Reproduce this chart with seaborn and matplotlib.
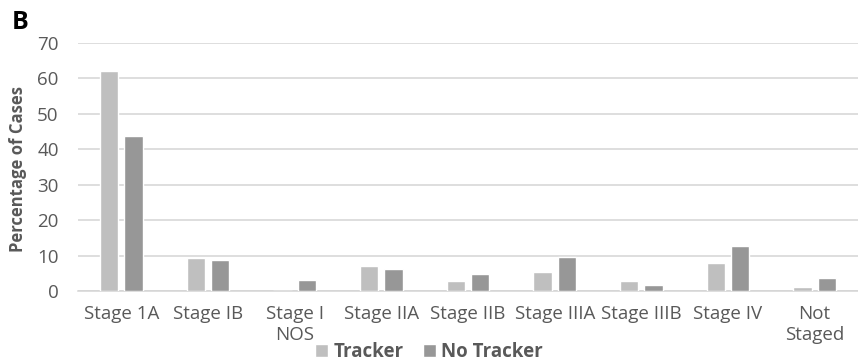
import pandas as pd
import matplotlib.pyplot as plt
import seaborn as sns

# Stage distribution, tracker vs no tracker (panel B)
stages = ['Stage 1A', 'Stage IB', 'Stage I\nNOS', 'Stage IIA', 'Stage IIB',
          'Stage IIIA', 'Stage IIIB', 'Stage IV', 'Not\nStaged']
tracker = [62.0, 9.2, 0.0, 7.1, 2.8, 5.4, 2.8, 7.9, 1.2]
no_tracker = [43.8, 8.8, 3.0, 6.2, 4.7, 9.5, 1.6, 12.7, 3.6]
groups = ['Tracker', 'No Tracker']

data = pd.DataFrame({
    'stage': stages * 2,
    'pct': tracker + no_tracker,
    'group': [groups[0]] * len(stages) + [groups[1]] * len(stages),
})

sns.set_style('white')
plt.rcParams['font.family'] = ['Open Sans', 'DejaVu Sans']

fig = plt.figure(figsize=(8.58, 3.63), dpi=100)
ax = fig.add_axes([0.091, 0.198, 0.909, 0.684])

sns.barplot(data=data, x='stage', y='pct', hue='group', order=stages,
            palette=['#bfbfbf', '#979797'], width=0.56, gap=0.25,
            saturation=1, ax=ax, zorder=3)

ax.set_ylim(0, 70)
ax.set_yticks(range(0, 71, 10))
ax.set_xlim(-0.5, len(stages) - 0.5)
ax.grid(axis='y', color='#d4d4d4', linewidth=1.1, zorder=0)
for s in ['top', 'right', 'left']:
    ax.spines[s].set_visible(False)
ax.spines['bottom'].set_color('#d4d4d4')
ax.spines['bottom'].set_linewidth(1.1)
ax.tick_params(length=0, colors='#595959', labelsize=13.5)
ax.tick_params(axis='x', pad=10)
ax.tick_params(axis='y', pad=14)
ax.set_xlabel('')
ax.set_ylabel('Percentage of Cases', fontsize=12, fontweight='bold', color='#595959')
ax.yaxis.set_label_coords(-0.066, 0.49)

ax.legend_.remove()
handles, labels = ax.get_legend_handles_labels()
fig.legend(handles, labels, loc='center', bbox_to_anchor=(0.5, 0.03), ncol=2,
           frameon=False, handlelength=0.7, handleheight=0.7, handletextpad=0.3,
           columnspacing=1.0, prop={'weight': 'bold', 'size': 13.5},
           labelcolor='#595959')

fig.text(0.014, 0.92, 'B', fontsize=18, fontweight='bold', color='black')

fig.savefig('out.png', dpi=100)
